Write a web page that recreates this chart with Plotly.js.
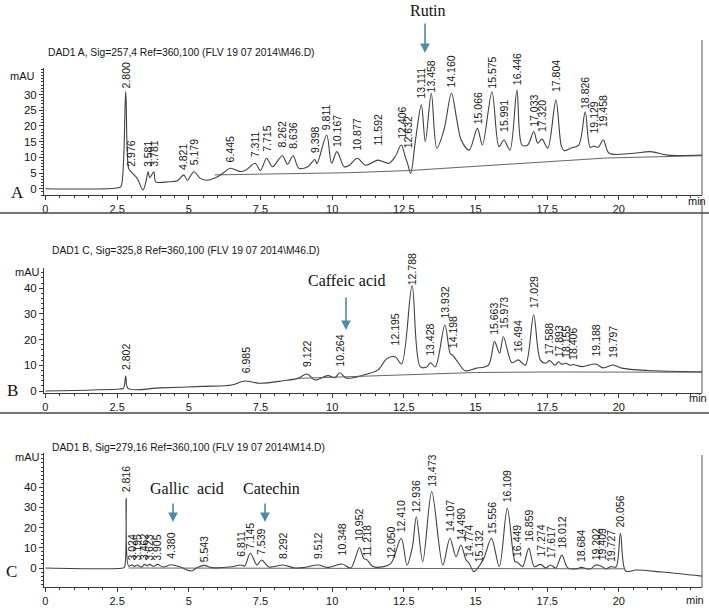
<!DOCTYPE html>
<html>
<head>
<meta charset="utf-8">
<script src="https://cdn.plot.ly/plotly-3.0.1.min.js"></script>
<style>html,body{margin:0;padding:0;background:#fff;}#chart{width:709px;height:611px;}</style>
</head>
<body>
<div id="chart"></div>
<script>
// ---------- Panel A : DAD1 A, Sig=257,4 ----------
const timeA = [0, 2.55, 2.64, 2.80, 2.90, 2.976, 3.20, 3.40, 3.50, 3.581, 3.64, 3.781, 3.85, 4.30, 4.60, 4.821, 4.95, 5.179, 5.40, 5.65, 6.00, 6.20, 6.445, 6.80, 7.00, 7.311, 7.50, 7.715, 7.92, 8.262, 8.44, 8.636, 8.84, 9.15, 9.398, 9.47, 9.811, 9.98, 10.167, 10.42, 10.60, 10.877, 11.17, 11.592, 11.98, 12.20, 12.406, 12.55, 12.632, 12.74, 12.90, 13.111, 13.25, 13.458, 13.65, 13.90, 14.160, 14.35, 14.50, 14.78, 15.066, 15.24, 15.575, 15.82, 15.991, 16.20, 16.446, 16.62, 16.82, 17.033, 17.17, 17.320, 17.52, 17.804, 18.00, 18.10, 18.32, 18.60, 18.826, 19.00, 19.129, 19.28, 19.458, 19.66, 20.50, 21.10, 21.70, 22.90];
const signalA = [0, 0.3, 0.8, 31.0, 6.5, 5.5, 3.3, -0.4, 2.0, 5.4, 3.5, 5.4, 2.2, 2.2, 2.5, 4.4, 2.7, 5.4, 3.3, 2.7, 3.8, 5.0, 6.5, 5.5, 6.0, 8.1, 5.8, 9.7, 7.0, 10.5, 7.8, 10.5, 6.5, 7.0, 9.3, 8.0, 17.1, 8.1, 11.8, 7.0, 7.5, 9.7, 7.5, 9.1, 8.1, 10.2, 13.9, 10.2, 8.0, 4.9, 15.0, 26.7, 15.0, 30.4, 12.9, 18.7, 30.4, 21.9, 15.5, 12.3, 19.2, 13.9, 30.9, 13.4, 15.5, 12.3, 31.4, 13.9, 13.9, 18.2, 14.5, 15.8, 12.9, 28.2, 13.4, 12.1, 12.9, 13.9, 24.5, 13.2, 13.6, 13.2, 15.5, 11.3, 11.3, 11.8, 10.7, 10.7];
const baseTimeA = [5.9, 10.6, 12.7, 16.2, 19.6, 22.9];
const baseA = [4.4, 5.1, 5.8, 7.8, 9.8, 10.5];
const peakLabelsA = ["2.800", "2.976", "3.581", "3.781", "4.821", "5.179", "6.445", "7.311", "7.715", "8.262", "8.636", "9.398", "9.811", "10.167", "10.877", "11.592", "12.406", "12.632", "13.111", "13.458", "14.160", "15.066", "15.575", "15.991", "16.446", "17.033", "17.320", "17.804", "18.826", "19.129", "19.458"];
const peakLevelA = [30.9, 6.0, 6.0, 6.0, 4.9, 6.5, 7.5, 9.1, 10.7, 12.3, 11.8, 10.4, 17.6, 12.3, 11.3, 12.9, 15.0, 11.8, 27.7, 29.8, 31.4, 19.7, 30.9, 17.1, 32.0, 18.7, 17.1, 29.8, 24.5, 16.6, 18.7];

// ---------- Panel B : DAD1 C, Sig=325,8 ----------
const timeB = [0, 2.60, 2.72, 2.802, 2.88, 4.00, 5.50, 6.50, 6.80, 6.985, 7.50, 8.30, 8.80, 9.122, 9.40, 9.85, 10.10, 10.264, 10.50, 11.10, 11.60, 11.90, 12.195, 12.42, 12.788, 13.07, 13.30, 13.428, 13.60, 13.932, 14.12, 14.198, 14.40, 14.64, 15.00, 15.45, 15.663, 15.84, 15.973, 16.27, 16.494, 16.74, 17.029, 17.26, 17.45, 17.588, 17.78, 17.893, 18.00, 18.155, 18.30, 18.406, 18.72, 19.188, 19.45, 19.797, 20.10, 21.00, 22.90];
const signalB = [0, 0.8, 1.0, 5.8, 1.0, 1.2, 1.8, 2.3, 3.5, 3.9, 3.0, 4.0, 4.9, 6.6, 4.3, 6.0, 5.2, 7.1, 5.0, 6.2, 8.2, 12.5, 13.3, 10.5, 41.0, 9.5, 9.3, 11.0, 9.4, 25.7, 14.5, 14.0, 11.0, 7.9, 8.8, 10.1, 19.2, 14.7, 21.1, 11.0, 12.1, 10.1, 29.6, 12.1, 10.8, 11.8, 10.0, 11.4, 10.4, 10.8, 10.0, 10.3, 9.5, 10.5, 9.0, 10.1, 8.9, 8.0, 7.5];
const baseTimeB = [8.8, 12.5, 15.0, 17.5, 22.9];
const baseB = [4.9, 6.3, 7.2, 7.4, 7.3];
const peakLabelsB = ["2.802", "6.985", "9.122", "10.264", "12.195", "12.788", "13.428", "13.932", "14.198", "15.663", "15.973", "16.494", "17.029", "17.588", "17.893", "18.155", "18.406", "19.188", "19.797"];
const peakLevelB = [6.9, 5.6, 8.2, 8.2, 16.6, 40.0, 12.7, 27.0, 15.3, 20.5, 23.1, 14.0, 30.9, 12.7, 12.1, 11.7, 11.0, 12.1, 11.7];

// ---------- Panel C : DAD1 B, Sig=279,16 ----------
const timeC = [0, 2.70, 2.76, 2.816, 2.90, 3.024, 3.10, 3.195, 3.35, 3.462, 3.55, 3.623, 3.78, 3.905, 4.10, 4.380, 4.70, 5.09, 5.30, 5.543, 5.80, 6.50, 6.811, 6.95, 7.145, 7.38, 7.539, 7.80, 8.292, 8.70, 9.00, 9.512, 9.85, 10.348, 10.65, 10.952, 11.10, 11.218, 11.42, 11.80, 12.050, 12.410, 12.61, 12.80, 12.936, 13.16, 13.473, 13.86, 14.107, 14.32, 14.490, 14.67, 14.774, 14.94, 15.132, 15.31, 15.556, 15.83, 16.109, 16.38, 16.449, 16.64, 16.859, 17.05, 17.274, 17.45, 17.617, 17.80, 18.012, 18.22, 18.55, 18.684, 19.00, 19.202, 19.409, 19.55, 19.727, 19.90, 20.056, 20.24, 20.60, 21.50, 22.90];
const signalC = [0, 0, 0.5, 34.5, 1.0, 1.6, 0.8, 1.5, 0.5, 1.8, 1.0, 1.8, 0.8, 1.8, 0.5, 1.6, 0.5, -1.5, 0.3, 1.3, 0.2, 0.6, 1.5, 1.0, 7.3, 1.5, 4.0, 0.5, 1.5, 0, 0.2, 1.5, 0.3, 2.0, 0, 10.0, 4.8, 4.0, 0.7, 0.7, 2.3, 14.7, 1.5, 10.5, 25.4, 3.1, 37.8, 1.5, 14.7, 5.6, 11.4, 4.0, 2.5, -1.8, 1.0, 5.6, 14.7, 0.7, 29.6, 3.1, 3.0, 0.7, 9.7, 0.7, 1.8, 0, 1.5, 0, 6.4, 0, -0.3, 0.3, -0.5, 1.5, 0.8, -0.5, 0.7, 0.5, 17.2, -1.5, -1.0, -2.0, -4.0];
const baseTimeC = [2.9, 20.2];
const baseC = [0, -0.4];
const peakLabelsC = ["2.816", "3.024", "3.195", "3.462", "3.623", "3.905", "4.380", "5.543", "6.811", "7.145", "7.539", "8.292", "9.512", "10.348", "10.952", "11.218", "12.050", "12.410", "12.936", "13.473", "14.107", "14.490", "14.774", "15.132", "15.556", "16.109", "16.449", "16.859", "17.274", "17.617", "18.012", "18.684", "19.202", "19.409", "19.727", "20.056"];
const peakLevelC = [36.1, 2.3, 2.3, 2.3, 2.3, 2.3, 3.1, 1.5, 4.0, 8.0, 4.8, 3.1, 3.1, 4.8, 12.2, 4.0, 3.1, 16.3, 26.2, 38.6, 16.3, 12.2, 4.0, 1.5, 15.5, 31.2, 4.0, 11.4, 4.0, 3.1, 8.1, 1.5, 2.3, 2.3, 1.5, 18.8];

// ---------- Axis ticks ----------
const timeTicks = [0, 2.5, 5, 7.5, 10, 12.5, 15, 17.5, 20];
const timeTickText = ["0", "2.5", "5", "7.5", "10", "12.5", "15", "17.5", "20"];
const mauTicksA = [0, 5, 10, 15, 20, 25, 30];
const mauTicksBC = [0, 10, 20, 30, 40];

// ---------- Texts ----------
const panelTitles = ["DAD1 A, Sig=257,4 Ref=360,100 (FLV 19 07 2014\\M46.D)", "DAD1 C, Sig=325,8 Ref=360,100 (FLV 19 07 2014\\M46.D)", "DAD1 B, Sig=279,16 Ref=360,100 (FLV 19 07 2014\\M14.D)"];
const panelLetters = ["A", "B", "C"];
const compounds = ["Rutin", "Caffeic acid", "Gallic&nbsp;&nbsp;acid", "Catechin"];

// ---------- Layout helpers (pixel -> paper) ----------
const W = 709, H = 611, ML = 44, MR = 7;
const PW = W - ML - MR;
const px = p => (p - ML) / PW;
const py = p => 1 - p / H;
const SANS = "Liberation Sans, Arial, sans-serif";
const SERIF = "Liberation Serif, Times New Roman, serif";
const LINE = "#3a3a3a";
const TXT = "#151515";
const ARROW = "#4f8aa6";

const lineStyle = {color: '#404040', width: 1.1, shape: 'spline', smoothing: 0.9};
const baseStyle = {color: '#555', width: 0.9};

const traces = [
  {x: timeA, y: signalA, xaxis: 'x', yaxis: 'y', mode: 'lines', line: lineStyle, hoverinfo: 'skip'},
  {x: baseTimeA, y: baseA, xaxis: 'x', yaxis: 'y', mode: 'lines', line: baseStyle, hoverinfo: 'skip'},
  {x: timeB, y: signalB, xaxis: 'x2', yaxis: 'y2', mode: 'lines', line: lineStyle, hoverinfo: 'skip'},
  {x: baseTimeB, y: baseB, xaxis: 'x2', yaxis: 'y2', mode: 'lines', line: baseStyle, hoverinfo: 'skip'},
  {x: timeC, y: signalC, xaxis: 'x3', yaxis: 'y3', mode: 'lines', line: lineStyle, hoverinfo: 'skip'},
  {x: baseTimeC, y: baseC, xaxis: 'x3', yaxis: 'y3', mode: 'lines', line: baseStyle, hoverinfo: 'skip'}
];

function xAxis(anchor) {
  return {
    anchor: anchor, domain: [0, 1], range: [-0.05, 22.9],
    showline: true, linecolor: LINE, linewidth: 1, mirror: false,
    ticks: 'outside', ticklen: 4, tickcolor: LINE, tickwidth: 1,
    tickmode: 'array', tickvals: timeTicks, ticktext: timeTickText,
    minor: {ticks: 'outside', ticklen: 2, tickcolor: LINE, tickmode: 'linear', tick0: 0, dtick: 0.5},
    showgrid: false, zeroline: false, automargin: false,
    tickfont: {family: SANS, size: 11, color: TXT}
  };
}
function yAxis(anchor, domain, range, ticks, minorStep) {
  return {
    anchor: anchor, domain: domain, range: range,
    showline: true, linecolor: LINE, linewidth: 1,
    ticks: 'outside', ticklen: 4, tickcolor: LINE, tickwidth: 1,
    tickmode: 'array', tickvals: ticks, ticktext: ticks.map(String),
    minor: {ticks: 'outside', ticklen: 2, tickcolor: LINE, tickmode: 'linear', tick0: 0, dtick: minorStep},
    showgrid: false, zeroline: false, automargin: false,
    tickfont: {family: SANS, size: 11.5, color: TXT}
  };
}

const annotations = [];
function addPeaks(labels, levels, xr, yr) {
  labels.forEach((lab, i) => {
    annotations.push({x: parseFloat(lab), y: levels[i], xref: xr, yref: yr, text: lab,
      textangle: -90, showarrow: false, xanchor: 'center', yanchor: 'bottom', yshift: 1,
      font: {family: SANS, size: 10.5, color: TXT}});
  });
}
addPeaks(peakLabelsA, peakLevelA, 'x', 'y');
addPeaks(peakLabelsB, peakLevelB, 'x2', 'y2');
addPeaks(peakLabelsC, peakLevelC, 'x3', 'y3');

// panel titles
[[46, 52], [50, 250], [50, 447]].forEach((p, i) => {
  annotations.push({xref: 'paper', yref: 'paper', x: px(p[0]), y: py(p[1]), text: panelTitles[i],
    showarrow: false, xanchor: 'left', yanchor: 'middle', font: {family: SANS, size: 10.3, color: TXT}});
});
// mAU labels
[[22, 76], [27, 272], [27, 457]].forEach(p => {
  annotations.push({xref: 'paper', yref: 'paper', x: px(p[0]), y: py(p[1]), text: 'mAU',
    showarrow: false, xanchor: 'center', yanchor: 'middle', font: {family: SANS, size: 11, color: TXT}});
});
// min labels
[[697, 201], [698, 398], [695, 600]].forEach(p => {
  annotations.push({xref: 'paper', yref: 'paper', x: px(p[0]), y: py(p[1]), text: 'min',
    showarrow: false, xanchor: 'center', yanchor: 'middle', font: {family: SANS, size: 11, color: TXT}});
});
// panel letters
[[17, 192], [12, 390], [11, 571]].forEach((p, i) => {
  annotations.push({xref: 'paper', yref: 'paper', x: px(p[0]), y: py(p[1]), text: panelLetters[i],
    showarrow: false, xanchor: 'center', yanchor: 'middle', font: {family: SERIF, size: 17, color: '#111'}});
});
// compound names
[[428, 10], [346, 280], [187, 488], [271, 488]].forEach((p, i) => {
  annotations.push({xref: 'paper', yref: 'paper', x: px(p[0]), y: py(p[1]), text: compounds[i],
    showarrow: false, xanchor: 'center', yanchor: 'middle', font: {family: SERIF, size: 16, color: '#111'}});
});
// arrows: [x, yTail, yHead]
[[425, 22, 53], [346, 296, 330], [173, 502, 522], [265, 502, 522]].forEach(a => {
  annotations.push({xref: 'paper', yref: 'paper', x: px(a[0]), y: py(a[2]), ax: 0, ay: a[1] - a[2],
    text: '', showarrow: true, arrowhead: 2, arrowsize: 1.2, arrowwidth: 1.6, arrowcolor: ARROW});
});

const shapes = [
  {type: 'line', xref: 'paper', yref: 'paper', x0: 1, x1: 1, y0: py(195), y1: py(40), line: {color: '#555', width: 1}},
  {type: 'line', xref: 'paper', yref: 'paper', x0: 1, x1: 1, y0: py(393), y1: py(200), line: {color: '#555', width: 1}},
  {type: 'line', xref: 'paper', yref: 'paper', x0: 1, x1: 1, y0: py(587), y1: py(455), line: {color: '#555', width: 1}},
  {type: 'line', xref: 'paper', yref: 'paper', x0: px(0), x1: px(709), y0: py(213), y1: py(213), line: {color: '#444', width: 1.3}},
  {type: 'line', xref: 'paper', yref: 'paper', x0: px(0), x1: px(709), y0: py(413), y1: py(413), line: {color: '#444', width: 1.3}}
];

const layout = {
  width: W, height: H,
  margin: {l: ML, r: MR, t: 0, b: 0},
  paper_bgcolor: '#fff', plot_bgcolor: '#fff',
  showlegend: false,
  xaxis: xAxis('y'),
  xaxis2: xAxis('y2'),
  xaxis3: xAxis('y3'),
  yaxis: yAxis('x', [py(195), py(68)], [-2.0, 38.44], mauTicksA, 1),
  yaxis2: yAxis('x2', [py(393), py(268)], [-0.78, 47.86], mauTicksBC, 2),
  yaxis3: yAxis('x3', [py(587), py(453)], [-9.4, 56.93], mauTicksBC, 2),
  annotations: annotations,
  shapes: shapes
};

Plotly.newPlot('chart', traces, layout, {staticPlot: true, displayModeBar: false});
</script>
</body>
</html>
